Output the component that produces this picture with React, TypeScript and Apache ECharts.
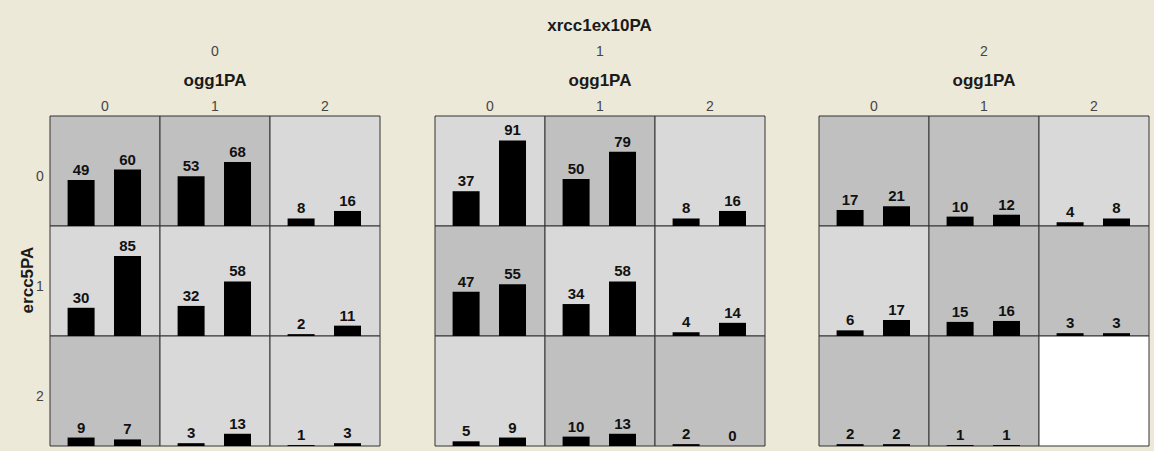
import React, { useEffect, useRef } from "react";
import * as echarts from "echarts";

// Levels
const xrccLevels = ["0", "1", "2"];
const oggLevels = ["0", "1", "2"];
const erccLevels = ["0", "1", "2"];

// Counts per cell, row-major (ercc5PA rows × ogg1PA columns), two bars each
const xrcc0Counts: (number[] | null)[] = [
  [49, 60], [53, 68], [8, 16],
  [30, 85], [32, 58], [2, 11],
  [9, 7], [3, 13], [1, 3],
];
const xrcc1Counts: (number[] | null)[] = [
  [37, 91], [50, 79], [8, 16],
  [47, 55], [34, 58], [4, 14],
  [5, 9], [10, 13], [2, 0],
];
const xrcc2Counts: (number[] | null)[] = [
  [17, 21], [10, 12], [4, 8],
  [6, 17], [15, 16], [3, 3],
  [2, 2], [1, 1], null,
];

// Cell shading (D = dark, L = light, E = empty)
const xrcc0Shade = ["D", "D", "L", "L", "L", "L", "D", "L", "L"];
const xrcc1Shade = ["L", "D", "L", "D", "L", "L", "L", "D", "D"];
const xrcc2Shade = ["D", "D", "L", "L", "D", "D", "D", "D", "E"];

const shadeColor: Record<string, string> = { D: "#C0C0C0", L: "#D9D9D9", E: "#FFFFFF" };

export default function App() {
  const ref = useRef<HTMLDivElement>(null);

  useEffect(() => {
    if (!ref.current) return;
    const chart = echarts.init(ref.current, undefined, { renderer: "svg" });

    const font = "'Liberation Sans', Arial, sans-serif";
    const panelLeft = [50, 435, 819];
    const cellW = 110;
    const cellH = 110;
    const topY = 116;
    const counts = [xrcc0Counts, xrcc1Counts, xrcc2Counts];
    const shades = [xrcc0Shade, xrcc1Shade, xrcc2Shade];

    const grids: any[] = [];
    const xAxes: any[] = [];
    const yAxes: any[] = [];
    const series: any[] = [];
    const graphics: any[] = [];

    let idx = 0;
    for (let p = 0; p < 3; p++) {
      for (let r = 0; r < 3; r++) {
        for (let c = 0; c < 3; c++) {
          const k = r * 3 + c;
          grids.push({
            left: panelLeft[p] + c * cellW,
            top: topY + r * cellH,
            width: cellW,
            height: cellH,
            show: true,
            backgroundColor: shadeColor[shades[p][k]],
            borderColor: "#333333",
            borderWidth: 1,
            containLabel: false,
          });
          xAxes.push({
            type: "value",
            gridIndex: idx,
            min: -0.67,
            max: 1.7,
            show: false,
          });
          yAxes.push({
            type: "value",
            gridIndex: idx,
            min: 0,
            max: 117,
            show: false,
          });
          const v = counts[p][k];
          series.push({
            type: "bar",
            xAxisIndex: idx,
            yAxisIndex: idx,
            barWidth: 27,
            itemStyle: { color: "#000000" },
            data: v ? [[0, v[0]], [1, v[1]]] : [],
            label: {
              show: true,
              position: "top",
              distance: 3,
              fontFamily: font,
              fontWeight: "bold",
              fontSize: 15,
              color: "#111111",
              formatter: (prm: any) => String(prm.value[1]),
            },
          });
          idx++;
        }
      }
    }

    const normal = (text: string, x: number, y: number) => ({
      type: "text",
      x,
      y,
      style: {
        text,
        fontFamily: font,
        fontSize: 14,
        fill: "#444444",
        align: "center",
        verticalAlign: "middle",
      },
    });
    const bold = (text: string, x: number, y: number, rotation = 0) => ({
      type: "text",
      x,
      y,
      rotation,
      style: {
        text,
        fontFamily: font,
        fontWeight: "bold",
        fontSize: 17,
        fill: "#1a1a1a",
        align: "center",
        verticalAlign: "middle",
      },
    });

    graphics.push(bold("xrcc1ex10PA", 599.5, 25));
    for (let p = 0; p < 3; p++) {
      const cx = panelLeft[p] + (cellW * 3) / 2;
      graphics.push(normal(xrccLevels[p], cx, 51));
      graphics.push(bold("ogg1PA", cx, 80));
      for (let c = 0; c < 3; c++) {
        graphics.push(normal(oggLevels[c], panelLeft[p] + c * cellW + cellW / 2, 106));
      }
    }
    for (let r = 0; r < 3; r++) {
      graphics.push(normal(erccLevels[r], 40, topY + r * cellH + cellH / 2 + 5));
    }
    graphics.push(bold("ercc5PA", 27, 280, Math.PI / 2));

    chart.setOption({
      animation: false,
      backgroundColor: "#ECE9D8",
      grid: grids,
      xAxis: xAxes,
      yAxis: yAxes,
      series,
      graphic: graphics,
    });

    return () => chart.dispose();
  }, []);

  return (
    <div
      ref={ref}
      style={{ position: "absolute", left: 0, top: 0, width: 1154, height: 451 }}
    />
  );
}
